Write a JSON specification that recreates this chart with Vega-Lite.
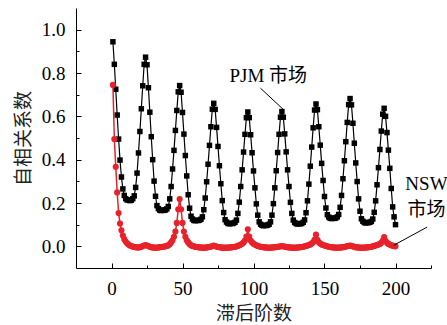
{
"$schema": "https://vega.github.io/schema/vega-lite/v6.json",
"width": 355, "height": 260,
"autosize": {"type": "none"},
"padding": {"left": 76, "top": 8, "right": 16, "bottom": 57},
"config": {
 "view": {"stroke": null},
 "axis": {"domainColor": "black", "domainWidth": 1, "tickColor": "black", "tickWidth": 1, "grid": false,
  "labelFont": "Liberation Serif", "labelFontSize": 19, "labelColor": "black",
  "titleFont": "Noto Sans CJK SC", "titleFontSize": 19, "titleFontWeight": "normal", "titleColor": "#222"}
},
"resolve": {"axis": {"x": "independent", "y": "independent"}},
"datasets": {
 "acf": [
{"lag":1,"pjm":0.944,"nsw":0.745},{"lag":2,"pjm":0.84,"nsw":0.495},{"lag":3,"pjm":0.725,"nsw":0.367},{"lag":4,"pjm":0.606,"nsw":0.249},{"lag":5,"pjm":0.495,"nsw":0.154},
{"lag":6,"pjm":0.398,"nsw":0.105},{"lag":7,"pjm":0.32,"nsw":0.074},{"lag":8,"pjm":0.265,"nsw":0.05},{"lag":9,"pjm":0.235,"nsw":0.033},{"lag":10,"pjm":0.22,"nsw":0.022},
{"lag":11,"pjm":0.214,"nsw":0.014},{"lag":12,"pjm":0.213,"nsw":0.008},{"lag":13,"pjm":0.211,"nsw":0.004},{"lag":14,"pjm":0.213,"nsw":0.001},{"lag":15,"pjm":0.22,"nsw":-0.001},
{"lag":16,"pjm":0.233,"nsw":-0.003},{"lag":17,"pjm":0.272,"nsw":-0.004},{"lag":18,"pjm":0.338,"nsw":-0.005},{"lag":19,"pjm":0.431,"nsw":-0.005},{"lag":20,"pjm":0.53,"nsw":-0.004},
{"lag":21,"pjm":0.635,"nsw":-0.002},{"lag":22,"pjm":0.741,"nsw":0.001},{"lag":23,"pjm":0.84,"nsw":0.004},{"lag":24,"pjm":0.873,"nsw":0.006},{"lag":25,"pjm":0.838,"nsw":0.004},
{"lag":26,"pjm":0.732,"nsw":0.001},{"lag":27,"pjm":0.619,"nsw":-0.002},{"lag":28,"pjm":0.506,"nsw":-0.004},{"lag":29,"pjm":0.4,"nsw":-0.005},{"lag":30,"pjm":0.301,"nsw":-0.006},
{"lag":31,"pjm":0.231,"nsw":-0.006},{"lag":32,"pjm":0.188,"nsw":-0.006},{"lag":33,"pjm":0.174,"nsw":-0.005},{"lag":34,"pjm":0.167,"nsw":-0.004},{"lag":35,"pjm":0.165,"nsw":-0.003},
{"lag":36,"pjm":0.167,"nsw":-0.002},{"lag":37,"pjm":0.166,"nsw":-0.001},{"lag":38,"pjm":0.168,"nsw":0.0},{"lag":39,"pjm":0.173,"nsw":0.002},{"lag":40,"pjm":0.184,"nsw":0.005},
{"lag":41,"pjm":0.219,"nsw":0.01},{"lag":42,"pjm":0.276,"nsw":0.018},{"lag":43,"pjm":0.357,"nsw":0.028},{"lag":44,"pjm":0.443,"nsw":0.044},{"lag":45,"pjm":0.535,"nsw":0.068},
{"lag":46,"pjm":0.627,"nsw":0.108},{"lag":47,"pjm":0.713,"nsw":0.171},{"lag":48,"pjm":0.742,"nsw":0.218},{"lag":49,"pjm":0.711,"nsw":0.171},{"lag":50,"pjm":0.618,"nsw":0.108},
{"lag":51,"pjm":0.518,"nsw":0.068},{"lag":52,"pjm":0.419,"nsw":0.044},{"lag":53,"pjm":0.325,"nsw":0.028},{"lag":54,"pjm":0.238,"nsw":0.018},{"lag":55,"pjm":0.176,"nsw":0.01},
{"lag":56,"pjm":0.139,"nsw":0.005},{"lag":57,"pjm":0.126,"nsw":0.002},{"lag":58,"pjm":0.12,"nsw":0.0},{"lag":59,"pjm":0.118,"nsw":-0.002},{"lag":60,"pjm":0.12,"nsw":-0.003},
{"lag":61,"pjm":0.119,"nsw":-0.004},{"lag":62,"pjm":0.121,"nsw":-0.005},{"lag":63,"pjm":0.125,"nsw":-0.005},{"lag":64,"pjm":0.136,"nsw":-0.006},{"lag":65,"pjm":0.169,"nsw":-0.006},
{"lag":66,"pjm":0.223,"nsw":-0.006},{"lag":67,"pjm":0.298,"nsw":-0.005},{"lag":68,"pjm":0.379,"nsw":-0.004},{"lag":69,"pjm":0.466,"nsw":-0.003},{"lag":70,"pjm":0.552,"nsw":-0.001},
{"lag":71,"pjm":0.633,"nsw":0.001},{"lag":72,"pjm":0.66,"nsw":0.003},{"lag":73,"pjm":0.632,"nsw":0.001},{"lag":74,"pjm":0.549,"nsw":-0.001},{"lag":75,"pjm":0.461,"nsw":-0.003},
{"lag":76,"pjm":0.372,"nsw":-0.004},{"lag":77,"pjm":0.289,"nsw":-0.005},{"lag":78,"pjm":0.211,"nsw":-0.006},{"lag":79,"pjm":0.156,"nsw":-0.006},{"lag":80,"pjm":0.123,"nsw":-0.006},
{"lag":81,"pjm":0.112,"nsw":-0.006},{"lag":82,"pjm":0.106,"nsw":-0.006},{"lag":83,"pjm":0.104,"nsw":-0.005},{"lag":84,"pjm":0.106,"nsw":-0.005},{"lag":85,"pjm":0.105,"nsw":-0.004},
{"lag":86,"pjm":0.107,"nsw":-0.003},{"lag":87,"pjm":0.111,"nsw":-0.002},{"lag":88,"pjm":0.121,"nsw":0.0},{"lag":89,"pjm":0.152,"nsw":0.002},{"lag":90,"pjm":0.204,"nsw":0.005},
{"lag":91,"pjm":0.276,"nsw":0.008},{"lag":92,"pjm":0.353,"nsw":0.012},{"lag":93,"pjm":0.435,"nsw":0.018},{"lag":94,"pjm":0.517,"nsw":0.027},{"lag":95,"pjm":0.594,"nsw":0.045},
{"lag":96,"pjm":0.62,"nsw":0.079},{"lag":97,"pjm":0.594,"nsw":0.045},{"lag":98,"pjm":0.515,"nsw":0.027},{"lag":99,"pjm":0.432,"nsw":0.018},{"lag":100,"pjm":0.348,"nsw":0.012},
{"lag":101,"pjm":0.27,"nsw":0.008},{"lag":102,"pjm":0.196,"nsw":0.005},{"lag":103,"pjm":0.144,"nsw":0.002},{"lag":104,"pjm":0.113,"nsw":0.0},{"lag":105,"pjm":0.102,"nsw":-0.002},
{"lag":106,"pjm":0.097,"nsw":-0.003},{"lag":107,"pjm":0.095,"nsw":-0.004},{"lag":108,"pjm":0.097,"nsw":-0.005},{"lag":109,"pjm":0.096,"nsw":-0.005},{"lag":110,"pjm":0.098,"nsw":-0.006},
{"lag":111,"pjm":0.102,"nsw":-0.006},{"lag":112,"pjm":0.113,"nsw":-0.006},{"lag":113,"pjm":0.144,"nsw":-0.005},{"lag":114,"pjm":0.197,"nsw":-0.005},{"lag":115,"pjm":0.27,"nsw":-0.004},
{"lag":116,"pjm":0.349,"nsw":-0.003},{"lag":117,"pjm":0.433,"nsw":-0.002},{"lag":118,"pjm":0.517,"nsw":-0.001},{"lag":119,"pjm":0.596,"nsw":0.0},{"lag":120,"pjm":0.622,"nsw":0.001},
{"lag":121,"pjm":0.596,"nsw":0.0},{"lag":122,"pjm":0.519,"nsw":-0.001},{"lag":123,"pjm":0.436,"nsw":-0.003},{"lag":124,"pjm":0.353,"nsw":-0.004},{"lag":125,"pjm":0.276,"nsw":-0.005},
{"lag":126,"pjm":0.203,"nsw":-0.005},{"lag":127,"pjm":0.152,"nsw":-0.006},{"lag":128,"pjm":0.121,"nsw":-0.006},{"lag":129,"pjm":0.11,"nsw":-0.006},{"lag":130,"pjm":0.105,"nsw":-0.006},
{"lag":131,"pjm":0.103,"nsw":-0.005},{"lag":132,"pjm":0.105,"nsw":-0.005},{"lag":133,"pjm":0.104,"nsw":-0.004},{"lag":134,"pjm":0.106,"nsw":-0.003},{"lag":135,"pjm":0.111,"nsw":-0.002},
{"lag":136,"pjm":0.122,"nsw":0.0},{"lag":137,"pjm":0.155,"nsw":0.002},{"lag":138,"pjm":0.21,"nsw":0.004},{"lag":139,"pjm":0.287,"nsw":0.006},{"lag":140,"pjm":0.37,"nsw":0.009},
{"lag":141,"pjm":0.458,"nsw":0.013},{"lag":142,"pjm":0.547,"nsw":0.019},{"lag":143,"pjm":0.629,"nsw":0.03},{"lag":144,"pjm":0.657,"nsw":0.054},{"lag":145,"pjm":0.631,"nsw":0.03},
{"lag":146,"pjm":0.552,"nsw":0.019},{"lag":147,"pjm":0.467,"nsw":0.013},{"lag":148,"pjm":0.383,"nsw":0.009},{"lag":149,"pjm":0.304,"nsw":0.006},{"lag":150,"pjm":0.23,"nsw":0.004},
{"lag":151,"pjm":0.177,"nsw":0.002},{"lag":152,"pjm":0.146,"nsw":0.0},{"lag":153,"pjm":0.135,"nsw":-0.002},{"lag":154,"pjm":0.13,"nsw":-0.003},{"lag":155,"pjm":0.128,"nsw":-0.004},
{"lag":156,"pjm":0.13,"nsw":-0.005},{"lag":157,"pjm":0.129,"nsw":-0.005},{"lag":158,"pjm":0.131,"nsw":-0.006},{"lag":159,"pjm":0.136,"nsw":-0.006},{"lag":160,"pjm":0.147,"nsw":-0.006},
{"lag":161,"pjm":0.18,"nsw":-0.005},{"lag":162,"pjm":0.235,"nsw":-0.005},{"lag":163,"pjm":0.312,"nsw":-0.004},{"lag":164,"pjm":0.395,"nsw":-0.003},{"lag":165,"pjm":0.483,"nsw":-0.001},
{"lag":166,"pjm":0.572,"nsw":0.001},{"lag":167,"pjm":0.654,"nsw":0.002},{"lag":168,"pjm":0.682,"nsw":0.004},{"lag":169,"pjm":0.653,"nsw":0.002},{"lag":170,"pjm":0.568,"nsw":0.0},
{"lag":171,"pjm":0.476,"nsw":-0.002},{"lag":172,"pjm":0.385,"nsw":-0.004},{"lag":173,"pjm":0.299,"nsw":-0.005},{"lag":174,"pjm":0.219,"nsw":-0.005},{"lag":175,"pjm":0.162,"nsw":-0.006},
{"lag":176,"pjm":0.127,"nsw":-0.006},{"lag":177,"pjm":0.116,"nsw":-0.006},{"lag":178,"pjm":0.11,"nsw":-0.006},{"lag":179,"pjm":0.108,"nsw":-0.005},{"lag":180,"pjm":0.11,"nsw":-0.005},
{"lag":181,"pjm":0.109,"nsw":-0.004},{"lag":182,"pjm":0.111,"nsw":-0.003},{"lag":183,"pjm":0.115,"nsw":-0.002},{"lag":184,"pjm":0.126,"nsw":0.0},{"lag":185,"pjm":0.157,"nsw":0.002},
{"lag":186,"pjm":0.21,"nsw":0.004},{"lag":187,"pjm":0.284,"nsw":0.006},{"lag":188,"pjm":0.363,"nsw":0.008},{"lag":189,"pjm":0.447,"nsw":0.011},{"lag":190,"pjm":0.532,"nsw":0.016},
{"lag":191,"pjm":0.61,"nsw":0.025},{"lag":192,"pjm":0.637,"nsw":0.043},{"lag":193,"pjm":0.6,"nsw":0.025},{"lag":194,"pjm":0.525,"nsw":0.016},{"lag":195,"pjm":0.444,"nsw":0.011},
{"lag":196,"pjm":0.36,"nsw":0.008},{"lag":197,"pjm":0.267,"nsw":0.005},{"lag":198,"pjm":0.182,"nsw":0.003},{"lag":199,"pjm":0.136,"nsw":0.001},{"lag":200,"pjm":0.1,"nsw":0.0}
 ],
 "labels": [
  {"x": 110.4, "y": 0.787, "t": "PJM 市场"},
  {"x": 221.8, "y": 0.287, "t": "NSW"},
  {"x": 221.8, "y": 0.167, "t": "市场"}
 ],
 "arrows": [
  {"x": 104.9, "y": 0.730, "x2": 121.3, "y2": 0.630},
  {"x": 222.3, "y": 0.089, "x2": 198.8, "y2": 0.005}
 ]
},
"layer": [
 {"data": {"name": "acf"}, "mark": {"type": "line", "color": "black", "strokeWidth": 1.2},
  "encoding": {
   "x": {"field": "lag", "type": "quantitative", "scale": {"domain": [-25, 225], "nice": false, "zero": false},
    "axis": {"orient": "bottom", "title": "滞后阶数", "values": [0,50,100,150,200], "format": "d",
     "labelFont": "Liberation Serif", "labelFontSize": 19,
     "tickSize": -5, "labelPadding": 16, "titlePadding": 6}},
   "y": {"field": "pjm", "type": "quantitative", "scale": {"domain": [-0.1, 1.1], "nice": false, "zero": false},
    "axis": {"orient": "left", "title": "自相关系数", "values": [0,0.2,0.4,0.6,0.8,1.0], "format": ".1f",
     "labelFont": "Liberation Serif", "labelFontSize": 19,
     "tickSize": -5, "labelPadding": 16, "titlePadding": 8}}
  }},
 {"data": {"name": "acf"}, "mark": {"type": "square", "color": "black", "size": 30, "opacity": 1},
  "encoding": {"x": {"field": "lag", "type": "quantitative", "axis": null}, "y": {"field": "pjm", "type": "quantitative", "axis": null}}},
 {"data": {"name": "acf"}, "mark": {"type": "line", "color": "#e8222a", "strokeWidth": 1.5},
  "encoding": {
   "x": {"field": "lag", "type": "quantitative", "axis": {"orient": "bottom", "title": null, "labels": false, "domain": false, "values": [25,75,125,175,225], "tickSize": -3}},
   "y": {"field": "nsw", "type": "quantitative", "axis": {"orient": "left", "title": null, "labels": false, "domain": false, "values": [0.1,0.3,0.5,0.7,0.9], "tickSize": -3}}}},
 {"data": {"name": "acf"}, "mark": {"type": "circle", "color": "#e8222a", "size": 38, "opacity": 1},
  "encoding": {"x": {"field": "lag", "type": "quantitative", "axis": null}, "y": {"field": "nsw", "type": "quantitative", "axis": null}}},
 {"data": {"name": "arrows"}, "mark": {"type": "rule", "color": "black", "strokeWidth": 1},
  "encoding": {"x": {"field": "x", "type": "quantitative", "axis": null}, "y": {"field": "y", "type": "quantitative", "axis": null},
   "x2": {"field": "x2"}, "y2": {"field": "y2"}}},
 {"data": {"name": "labels"}, "mark": {"type": "text", "font": "Liberation Serif, Noto Sans CJK SC", "fontSize": 19, "color": "black", "align": "center", "baseline": "middle"},
  "encoding": {"x": {"field": "x", "type": "quantitative", "axis": null}, "y": {"field": "y", "type": "quantitative", "axis": null}, "text": {"field": "t"}}}
]
}
